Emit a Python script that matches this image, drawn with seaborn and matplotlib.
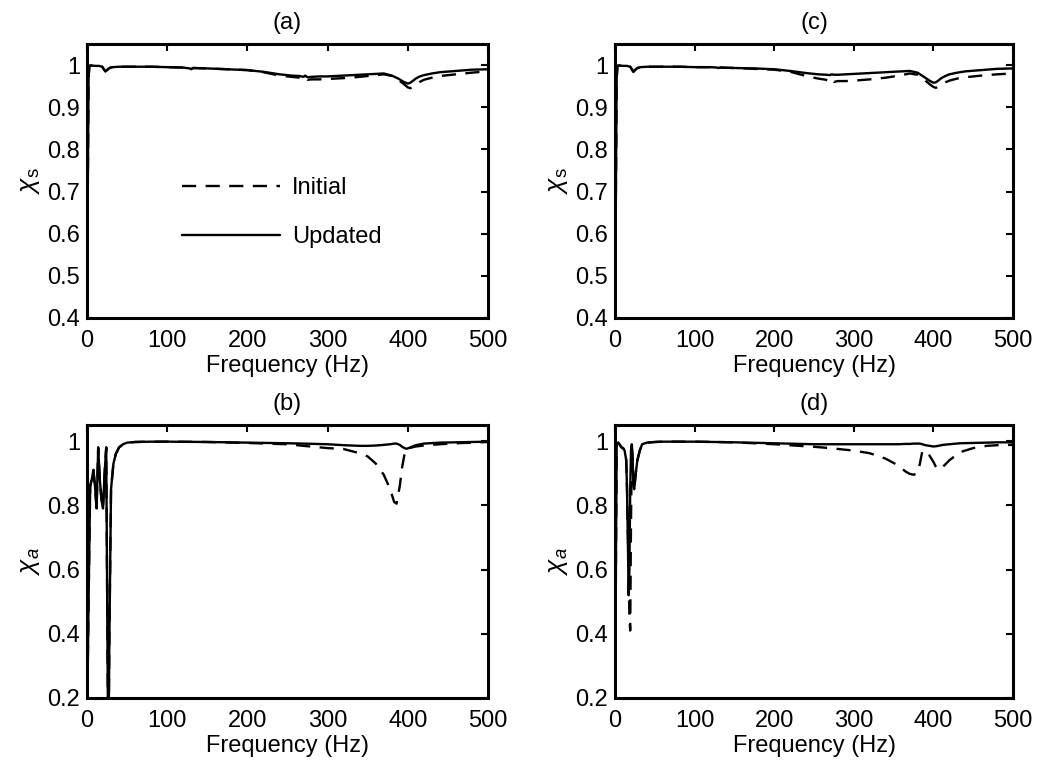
import numpy as np
import pandas as pd
import matplotlib
matplotlib.use("Agg")
import matplotlib.pyplot as plt
import seaborn as sns

sns.set_style("white")
plt.rcParams['font.family'] = ['Liberation Sans', 'DejaVu Sans']
plt.rcParams['mathtext.fontset'] = 'custom'
plt.rcParams['mathtext.rm'] = 'Liberation Sans'
plt.rcParams['mathtext.it'] = 'Liberation Sans:italic'
plt.rcParams['text.color'] = 'black'
plt.rcParams['axes.labelcolor'] = 'black'
plt.rcParams['xtick.color'] = 'black'
plt.rcParams['ytick.color'] = 'black'

# (a) chi_s, left column
freq_a = [0, 1, 2, 3, 5, 10, 15, 19, 21, 23, 25, 28, 32, 40, 60, 80, 100, 120, 128, 130, 132,
          150, 175, 200, 220, 240, 255, 265, 270, 272, 275, 280, 290, 300, 320, 340, 360, 370,
          380, 388, 395, 400, 403, 406, 410, 415, 420, 430, 440, 460, 480, 500]
upd_a = [0.30, 0.70, 0.97, 0.998, 0.999, 0.998, 0.998, 0.996, 0.990, 0.985, 0.988, 0.993, 0.995,
         0.996, 0.996, 0.996, 0.995, 0.994, 0.992, 0.990, 0.993, 0.992, 0.990, 0.988, 0.984, 0.978,
         0.975, 0.974, 0.972, 0.975, 0.971, 0.972, 0.973, 0.973, 0.975, 0.977, 0.979, 0.980, 0.975,
         0.968, 0.960, 0.956, 0.958, 0.962, 0.968, 0.973, 0.976, 0.980, 0.983, 0.986, 0.989, 0.990]
ini_a = [0.30, 0.70, 0.97, 0.998, 0.999, 0.998, 0.998, 0.996, 0.990, 0.985, 0.988, 0.993, 0.995,
         0.996, 0.996, 0.996, 0.995, 0.994, 0.992, 0.990, 0.993, 0.992, 0.990, 0.988, 0.983, 0.975,
         0.972, 0.970, 0.966, 0.970, 0.965, 0.966, 0.966, 0.967, 0.969, 0.972, 0.976, 0.978, 0.974,
         0.965, 0.955, 0.947, 0.945, 0.948, 0.953, 0.960, 0.965, 0.970, 0.974, 0.978, 0.982, 0.985]

# (c) chi_s, right column
freq_c = freq_a
upd_c = [0.30, 0.70, 0.97, 0.998, 0.999, 0.998, 0.998, 0.996, 0.990, 0.984, 0.988, 0.993, 0.995,
         0.996, 0.996, 0.996, 0.995, 0.995, 0.994, 0.993, 0.994, 0.993, 0.992, 0.990, 0.986, 0.981,
         0.978, 0.977, 0.976, 0.978, 0.977, 0.977, 0.978, 0.979, 0.981, 0.983, 0.985, 0.986, 0.982,
         0.972, 0.963, 0.958, 0.959, 0.963, 0.969, 0.974, 0.978, 0.982, 0.985, 0.988, 0.991, 0.992]
ini_c = [0.30, 0.70, 0.97, 0.998, 0.999, 0.998, 0.998, 0.996, 0.990, 0.984, 0.988, 0.993, 0.995,
         0.996, 0.996, 0.996, 0.995, 0.995, 0.994, 0.993, 0.994, 0.993, 0.991, 0.989, 0.984, 0.974,
         0.968, 0.965, 0.960, 0.966, 0.960, 0.962, 0.962, 0.963, 0.966, 0.970, 0.976, 0.980, 0.977,
         0.966, 0.955, 0.948, 0.946, 0.948, 0.953, 0.959, 0.963, 0.968, 0.971, 0.975, 0.978, 0.980]

# (b) chi_a, left column
freq_b = [0, 2, 4, 6, 8, 10, 12, 14, 16, 18, 20, 22, 24, 26, 27, 28, 30, 33, 36, 40, 45, 50, 60,
          80, 100, 150, 200, 250, 270, 300, 320, 340, 350, 360, 370, 378, 383, 386, 390, 393, 396,
          398, 400, 405, 410, 420, 440, 460, 480, 500]
upd_b = [0.10, 0.50, 0.86, 0.88, 0.91, 0.86, 0.79, 0.98, 0.88, 0.82, 0.79, 0.90, 0.98, 0.20, 0.10,
         0.40, 0.85, 0.93, 0.96, 0.98, 0.99, 0.995, 0.997, 0.998, 0.998, 0.997, 0.995, 0.993, 0.992,
         0.990, 0.987, 0.985, 0.985, 0.986, 0.988, 0.990, 0.992, 0.992, 0.988, 0.982, 0.978, 0.976,
         0.977, 0.982, 0.987, 0.992, 0.995, 0.996, 0.997, 0.998]
ini_b = [0.10, 0.50, 0.86, 0.88, 0.91, 0.86, 0.79, 0.98, 0.88, 0.82, 0.79, 0.90, 0.98, 0.20, 0.10,
         0.40, 0.85, 0.93, 0.96, 0.98, 0.99, 0.995, 0.997, 0.998, 0.998, 0.997, 0.994, 0.990, 0.985,
         0.978, 0.975, 0.962, 0.952, 0.930, 0.895, 0.850, 0.810, 0.805, 0.860, 0.920, 0.960, 0.975,
         0.977, 0.980, 0.983, 0.986, 0.990, 0.993, 0.995, 0.997]

# (d) chi_a, right column
freq_d = [0, 1, 2, 4, 6, 8, 10, 12, 14, 15, 16, 17, 18, 19, 20, 21, 22, 23, 24, 26, 28, 31, 34,
          40, 50, 60, 80, 100, 150, 200, 250, 270, 300, 320, 340, 355, 365, 370, 375, 380, 383,
          386, 390, 395, 400, 404, 408, 412, 420, 433, 450, 467, 480, 500]
upd_d = [0.10, 0.60, 0.99, 0.995, 0.988, 0.980, 0.978, 0.970, 0.940, 0.850, 0.700, 0.520, 0.600,
         0.850, 0.970, 0.990, 0.950, 0.860, 0.850, 0.900, 0.940, 0.970, 0.990, 0.995, 0.997, 0.998,
         0.998, 0.998, 0.996, 0.993, 0.990, 0.990, 0.990, 0.990, 0.990, 0.990, 0.991, 0.991, 0.992,
         0.992, 0.992, 0.990, 0.987, 0.985, 0.983, 0.984, 0.986, 0.988, 0.990, 0.993, 0.994, 0.995,
         0.996, 0.996]
ini_d = [0.10, 0.60, 0.99, 0.995, 0.988, 0.980, 0.978, 0.970, 0.940, 0.850, 0.720, 0.600, 0.450,
         0.410, 0.750, 0.980, 0.950, 0.860, 0.850, 0.900, 0.940, 0.970, 0.990, 0.995, 0.997, 0.998,
         0.998, 0.998, 0.996, 0.990, 0.982, 0.978, 0.970, 0.962, 0.945, 0.925, 0.905, 0.898, 0.895,
         0.900, 0.930, 0.968, 0.970, 0.955, 0.935, 0.915, 0.912, 0.920, 0.940, 0.965, 0.978, 0.985,
         0.987, 0.988]

x_ticks = [0, 100, 200, 300, 400, 500]
ticks_s = [0.4, 0.5, 0.6, 0.7, 0.8, 0.9, 1]
ticks_a = [0.2, 0.4, 0.6, 0.8, 1]
FS = 17

fig = plt.figure(figsize=(10.39, 7.62), dpi=100)
rects = {
    'a': [0.0837, 0.5827, 0.386, 0.3596],
    'c': [0.5920, 0.5827, 0.383, 0.3596],
    'b': [0.0837, 0.0840, 0.386, 0.3583],
    'd': [0.5920, 0.0840, 0.383, 0.3583],
}
panels = [
    ('a', freq_a, ini_a, upd_a, r'$\chi_{\rm s}$', (0.4, 1.05), ticks_s),
    ('c', freq_c, ini_c, upd_c, r'$\chi_{\rm s}$', (0.4, 1.05), ticks_s),
    ('b', freq_b, ini_b, upd_b, r'$\chi_a$', (0.2, 1.05), ticks_a),
    ('d', freq_d, ini_d, upd_d, r'$\chi_a$', (0.2, 1.05), ticks_a),
]

for key, f, ini, upd, ylab, ylim, yt in panels:
    ax = fig.add_axes(rects[key])
    sns.lineplot(x=f, y=ini, ax=ax, color='black', lw=1.7, linestyle=(0, (6, 4)),
                 label='Initial', sort=False)
    sns.lineplot(x=f, y=upd, ax=ax, color='black', lw=1.7, label='Updated', sort=False)
    ax.set_xlim(0, 500)
    ax.set_ylim(*ylim)
    ax.set_xticks(x_ticks)
    ax.set_yticks(yt)
    ax.set_yticklabels([f'{v:g}' for v in yt])
    ax.tick_params(direction='in', top=True, right=True, length=5, width=1.5,
                   labelsize=FS)
    ax.tick_params(axis='x', pad=9)
    ax.tick_params(axis='y', pad=5)
    for sp in ax.spines.values():
        sp.set_linewidth(2.2)
        sp.set_color('black')
    ax.set_xlabel('Frequency (Hz)', fontsize=FS, labelpad=2)
    ax.set_ylabel(ylab, fontsize=FS + 2, labelpad=4)
    ax.set_title(f'({key})', fontsize=FS, pad=11)
    if key == 'a':
        ax.legend(loc='center left', bbox_to_anchor=(0.185, 0.385), frameon=False,
                  fontsize=FS, handlelength=4.15, labelspacing=1.15, handletextpad=0.5)
    else:
        ax.get_legend().remove()

fig.savefig('out.png', dpi=100)
